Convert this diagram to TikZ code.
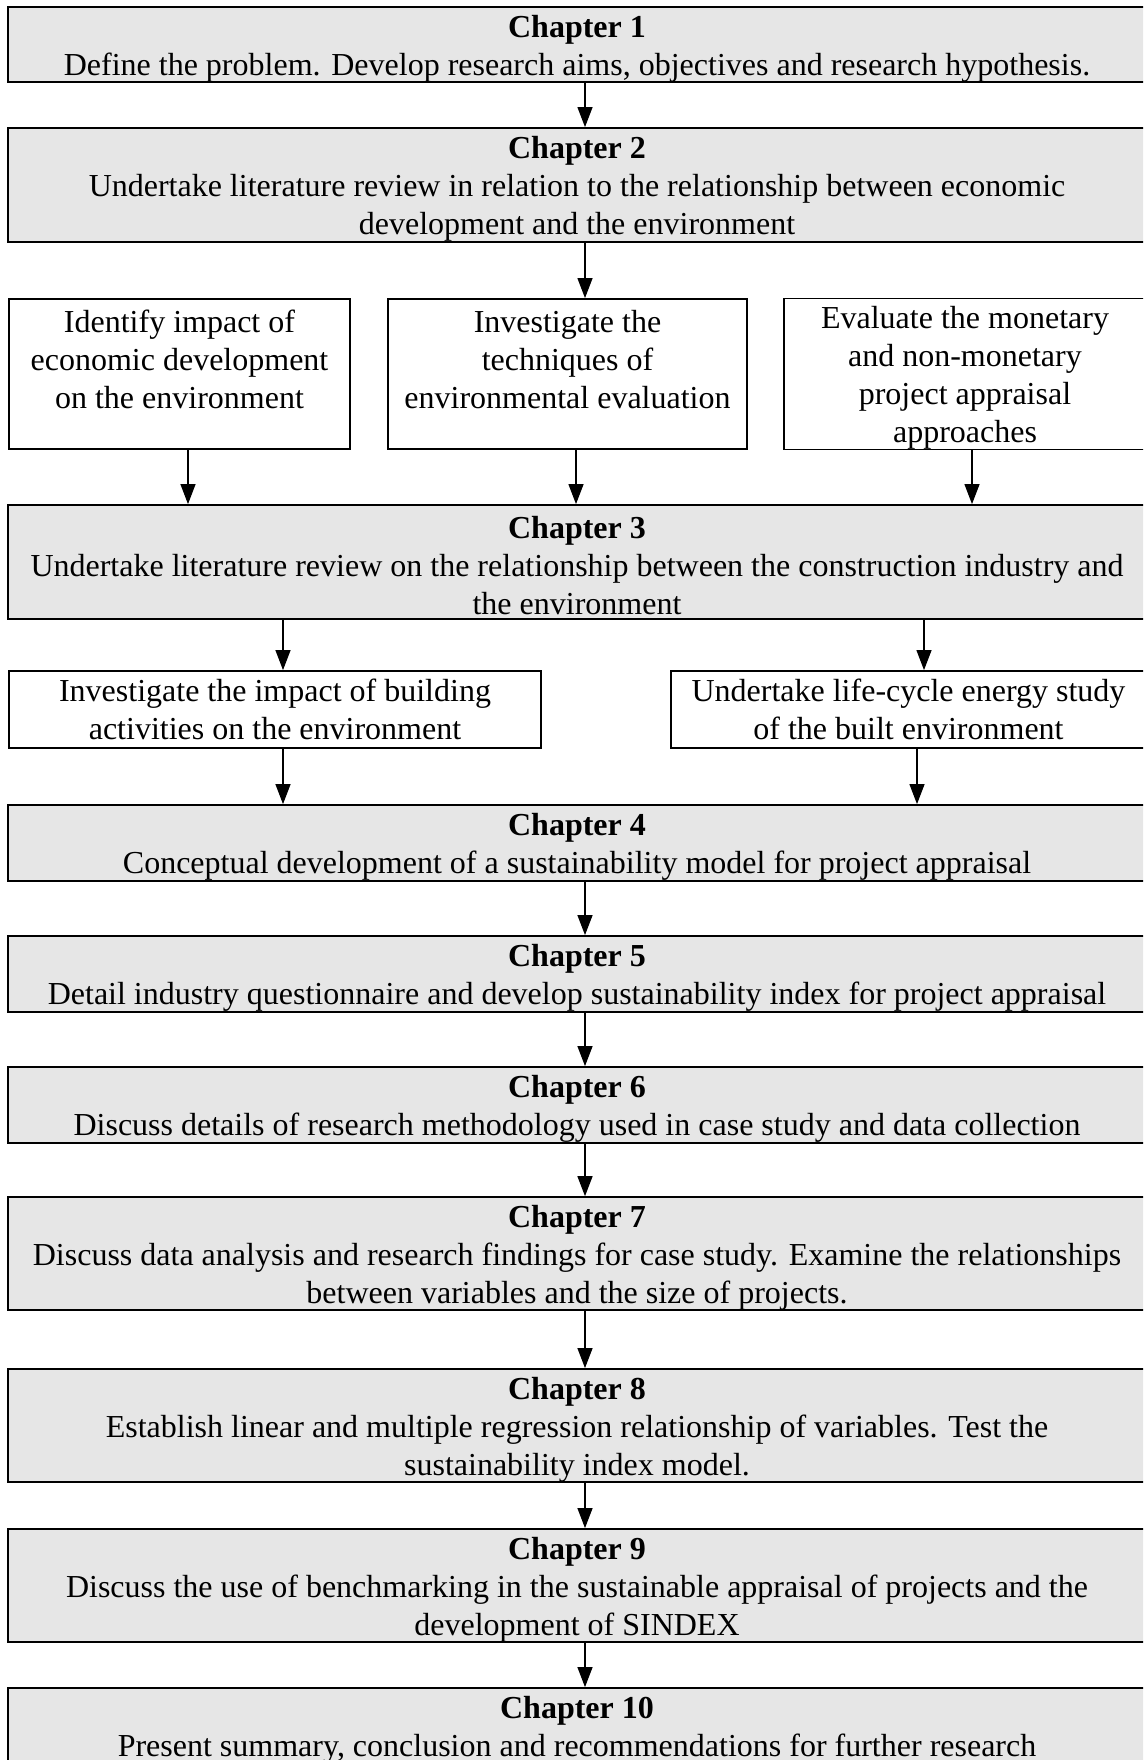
\documentclass[tikz,border=0pt]{standalone}
\usepackage{fontspec}
\setmainfont{Liberation Serif}
\usetikzlibrary{arrows.meta}
\definecolor{chapgray}{RGB}{230,230,230}
\newcommand{\chapstrut}{\rule{0pt}{30pt}}
\newcommand{\chaptext}[2]{\chapstrut\textbf{Chapter #1}\\#2}

\begin{document}
\begin{tikzpicture}[x=1pt,y=-1pt,
    box/.style={draw,line width=1.8pt,inner sep=0pt,align=center,font=\fontsize{32}{38}\selectfont},
    chap/.style={box,fill=chapgray,minimum width=1138pt},
    task/.style={box,fill=white},
    arr/.style={line width=1.2pt,-{Triangle[length=20pt,width=15pt]}}]
  \path[use as bounding box,clip] (0,0) rectangle (1143,1760);
  % chapters
  \node[chap,minimum height=75pt] (ch1) at (577,44.5) {\chaptext{1}{Define the problem. Develop research aims, objectives and research hypothesis.}};
  \node[chap,minimum height=114pt] (ch2) at (577,185) {\chaptext{2}{Undertake literature review in relation to the relationship between economic\\development and the environment}};
  \node[task,minimum width=341pt,minimum height=150pt] (r1a) at (179.5,374) {\chapstrut Identify impact of\\economic development\\on the environment\\\mbox{}};
  \node[task,minimum width=359pt,minimum height=150pt] (r1b) at (567.5,374) {\chapstrut Investigate the\\techniques of\\environmental evaluation\\\mbox{}};
  \node[task,minimum width=362pt,minimum height=150pt] (r1c) at (965,374) {\chapstrut Evaluate the monetary\\and non-monetary\\project appraisal\\approaches};
  \node[chap,minimum height=114pt] (ch3) at (577,562) {\chaptext{3}{Undertake literature review on the relationship between the construction industry and\\the environment}};
  \node[task,minimum width=532pt,minimum height=77pt] (r2a) at (275,709.5) {Investigate the impact of building\\activities on the environment};
  \node[task,minimum width=475pt,minimum height=77pt] (r2b) at (908.5,709.5) {Undertake life-cycle energy study\\of the built environment};
  \node[chap,minimum height=76pt] (ch4) at (577,843) {\chaptext{4}{Conceptual development of a sustainability model for project appraisal}};
  \node[chap,minimum height=76pt] (ch5) at (577,974) {\chaptext{5}{Detail industry questionnaire and develop sustainability index for project appraisal}};
  \node[chap,minimum height=76pt] (ch6) at (577,1105) {\chaptext{6}{Discuss details of research methodology used in case study and data collection}};
  \node[chap,minimum height=111pt] (ch7) at (577,1253.5) {\chaptext{7}{Discuss data analysis and research findings for case study. Examine the relationships\\between variables and the size of projects.}};
  \node[chap,minimum height=113pt] (ch8) at (577,1425.5) {\chaptext{8}{Establish linear and multiple regression relationship of variables. Test the\\sustainability index model.}};
  \node[chap,minimum height=113pt] (ch9) at (577,1585.5) {\chaptext{9}{Discuss the use of benchmarking in the sustainable appraisal of projects and the\\development of SINDEX}};
  \node[chap,minimum height=76pt] (ch10) at (577,1726) {\chaptext{10}{Present summary, conclusion and recommendations for further research}};
  % arrows
  \coordinate (spine) at (585,0);
  \foreach \a/\b in {ch1/ch2,ch2/r1b,ch4/ch5,ch5/ch6,ch6/ch7,ch7/ch8,ch8/ch9,ch9/ch10}
    \draw[arr] (\a.south -| spine) -- (\b.north -| spine);
  \foreach \a/\x in {r1a/188,r1b/576,r1c/972}
    \draw[arr] (\a.south -| \x,0) -- (ch3.north -| \x,0);
  \foreach \b/\x in {r2a/283,r2b/924}
    \draw[arr] (ch3.south -| \x,0) -- (\b.north -| \x,0);
  \foreach \a/\x in {r2a/283,r2b/917}
    \draw[arr] (\a.south -| \x,0) -- (ch4.north -| \x,0);
\end{tikzpicture}
\end{document}
